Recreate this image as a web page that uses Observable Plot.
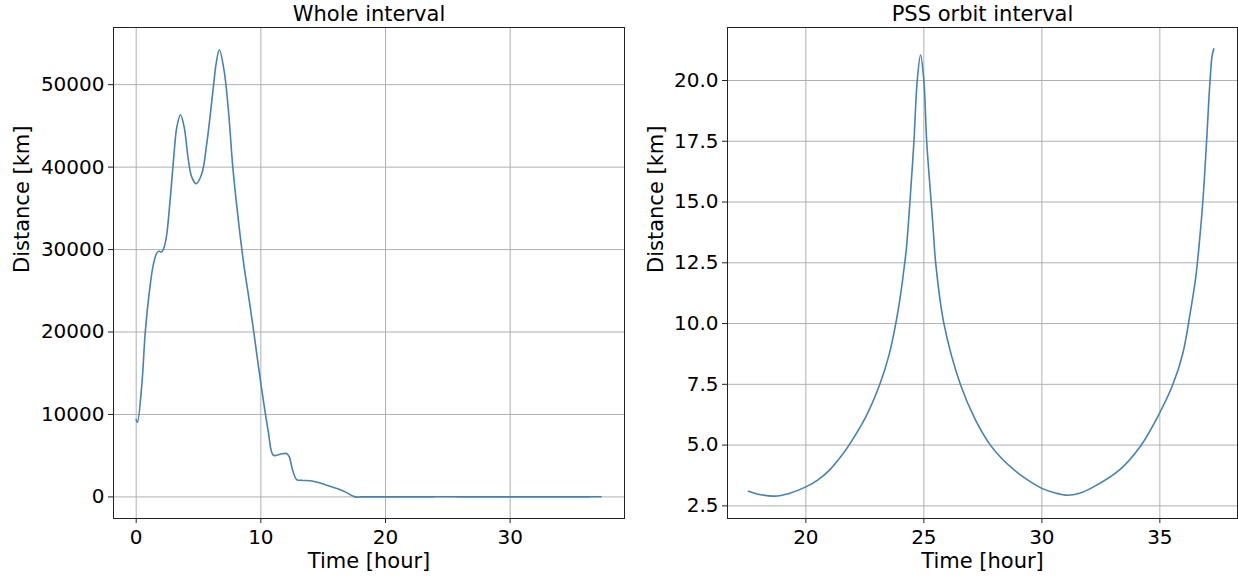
<!DOCTYPE html>
<html><head><meta charset="utf-8">
<script src="https://cdn.jsdelivr.net/npm/d3@7"></script>
<script src="https://cdn.jsdelivr.net/npm/@observablehq/plot@0.6"></script>
<style>
body{margin:0;background:#fff;}
#wrap{position:relative;width:1238px;height:578px;font-family:"DejaVu Sans",sans-serif;}
#wrap svg{position:absolute;top:0;overflow:visible;}
</style></head><body><div id="wrap"></div>
<script>
// Whole interval (hours, km) up to the start of the PSS orbit
const wholeTime = [0, 0.1, 0.46, 0.72, 1.07, 1.39, 1.66, 1.85, 2.0, 2.14, 2.3, 2.46, 2.72, 2.99, 3.26, 3.55, 3.85, 4.19, 4.46, 4.81, 5.26, 5.66, 6.19, 6.41, 6.67, 7.05, 7.40, 7.75, 8.20, 8.65, 9.00, 9.46, 9.80, 10.20, 10.60, 11.00, 11.54, 12.07, 12.28, 12.55, 12.87, 13.27, 14.21, 15.28, 16.61];
const wholeDist = [9380, 9020, 13750, 19800, 25050, 28290, 29600, 29800, 29700, 29900, 30600, 31930, 35960, 40810, 44850, 46350, 44850, 40810, 38790, 37990, 39200, 42840, 49700, 52530, 54230, 51720, 46870, 40000, 33500, 28000, 24500, 19700, 15900, 11700, 7900, 5050, 5180, 5260, 4850, 3240, 2110, 2020, 1900, 1420, 730];
// PSS orbit interval (hours, km)
const pssTime = [17.56, 18.03, 18.66, 19.29, 20.0, 20.5, 21.0, 21.5, 21.83, 22.54, 23.13, 23.52, 23.81, 24.02, 24.19, 24.26, 24.41, 24.58, 24.72, 24.86, 25.0, 25.12, 25.31, 25.40, 25.50, 25.85, 26.55, 27.18, 27.82, 28.3, 28.8, 29.3, 30.0, 30.5, 31.02, 31.6, 32.19, 33.32, 34.19, 34.98, 35.55, 35.97, 36.28, 36.52, 36.67, 36.82, 36.98, 37.12, 37.22, 37.29];
const pssDist = [3.10, 2.97, 2.90, 3.01, 3.28, 3.56, 3.97, 4.55, 5.0, 6.16, 7.49, 8.69, 10.0, 11.23, 12.5, 13.08, 15.0, 17.5, 20.0, 21.05, 20.0, 17.5, 15.0, 13.83, 12.5, 10.0, 7.49, 6.05, 5.0, 4.45, 4.0, 3.63, 3.22, 3.05, 2.94, 3.02, 3.28, 4.0, 4.97, 6.3, 7.49, 8.76, 10.4, 11.9, 13.3, 15.0, 17.5, 19.9, 21.05, 21.3];

const wholeXTicks = [0, 10, 20, 30];
const wholeYTicks = [0, 10000, 20000, 30000, 40000, 50000];
const pssXTicks = [20, 25, 30, 35];
const pssYTicks = [2.5, 5, 7.5, 10, 12.5, 15, 17.5, 20];
const titles = ["Whole interval", "PSS orbit interval"];
const xLabel = "Time [hour]";
const yLabel = "Distance [km]";

const FONT = '"DejaVu Sans", sans-serif';

function panel(o) {
  const data = o.time.map((t, i) => ({t, d: o.dist[i]}));
  const svg = Plot.plot({
    width: o.width, height: 578,
    marginLeft: o.marginLeft, marginRight: o.marginRight, marginTop: 27, marginBottom: 60,
    style: {fontFamily: FONT, fontSize: "20px", color: "#000", background: "white", overflow: "visible"},
    x: {domain: o.xDomain, label: null},
    y: {domain: o.yDomain, label: null},
    marks: [
      Plot.gridX(o.xTicks, {stroke: "#b0b0b0", strokeOpacity: 1, strokeWidth: 1}),
      Plot.gridY(o.yTicks, {stroke: "#b0b0b0", strokeOpacity: 1, strokeWidth: 1}),
      Plot.axisX(o.xTicks, {tickSize: 5, tickPadding: 6, fontSize: 20, label: null, stroke: "#222", fill: "#000"}),
      Plot.axisY(o.yTicks, {tickSize: 5, tickPadding: 4, fontSize: 20, label: null, tickFormat: o.yFormat, stroke: "#222", fill: "#000"}),
      Plot.line(data, {x: "t", y: "d", stroke: "steelblue", strokeWidth: 1.6, curve: "catmull-rom"}),
      Plot.frame({stroke: "#222", strokeWidth: 1}),
      Plot.text([o.title], {frameAnchor: "top", dy: -13, fontSize: 21, lineAnchor: "middle", fill: "#000"}),
      Plot.text([xLabel], {frameAnchor: "bottom", dy: 43, fontSize: 21, lineAnchor: "middle", fill: "#000"}),
      Plot.text([yLabel], {frameAnchor: "left", dx: o.yLabelDx, rotate: -90, fontSize: 21, lineAnchor: "middle", fill: "#000"})
    ]
  });
  svg.style.left = o.left + "px";
  return svg;
}

const wrap = document.getElementById("wrap");
wrap.appendChild(panel({
  time: wholeTime.concat(pssTime), dist: wholeDist.concat(pssDist),
  xDomain: [-1.82, 39.17], yDomain: [-2618, 56933],
  xTicks: wholeXTicks, yTicks: wholeYTicks, yFormat: d3.format("d"),
  title: titles[0], width: 630, marginLeft: 113, marginRight: 6, left: 0, yLabelDx: -91
}));
wrap.appendChild(panel({
  time: pssTime, dist: pssDist,
  xDomain: [16.68, 38.29], yDomain: [1.98, 22.18],
  xTicks: pssXTicks, yTicks: pssYTicks, yFormat: d3.format(".1f"),
  title: titles[1], width: 608, marginLeft: 97, marginRight: 1, left: 630, yLabelDx: -71
}));
</script></body></html>
